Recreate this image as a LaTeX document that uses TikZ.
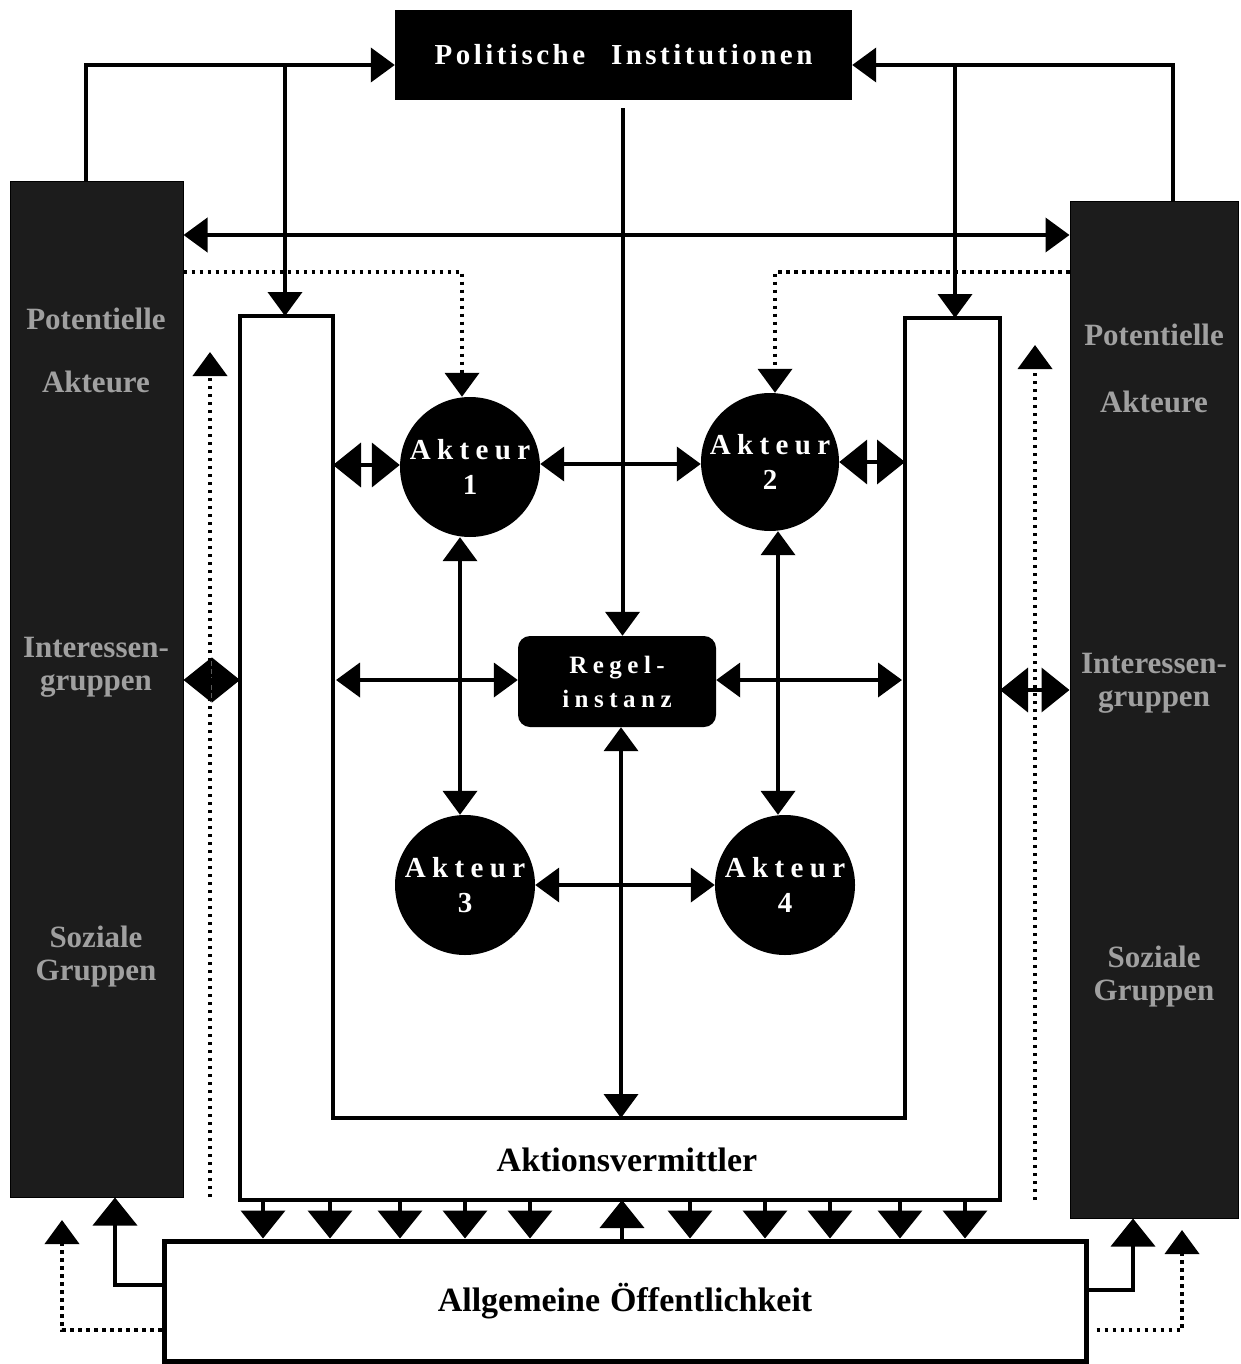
\documentclass[tikz,border=0pt]{standalone}
\usepackage{fontspec}
\setmainfont{Liberation Serif}
\newfontfamily\spc[LetterSpace=12]{Liberation Serif}
\newfontfamily\spcb[LetterSpace=22]{Liberation Serif}
\usetikzlibrary{arrows.meta}
\definecolor{colfill}{HTML}{1C1C1C}
\definecolor{coltext}{HTML}{A0A0A0}
\begin{document}
\begin{tikzpicture}[x=1pt,y=-1pt,
  solid line/.style={line width=4pt},
  arr/.style={solid line,-{Triangle[width=34pt,length=24pt]}},
  dbl/.style={solid line,{Triangle[width=34pt,length=24pt]}-{Triangle[width=34pt,length=24pt]}},
  dia/.style={solid line,{Triangle[width=44pt,length=28pt]}-{Triangle[width=44pt,length=28pt]}},
  barr/.style={solid line,-{Triangle[width=44pt,length=28pt]}},
  dotarr/.style={line width=4pt,dash pattern=on 3.5pt off 4.5pt,-{Triangle[width=34pt,length=24pt]}},
  blackbox/.style={fill=black,text=white,inner sep=0pt},
  column/.style={fill=colfill,draw=black,line width=1pt,inner sep=0pt},
  coltxt/.style={text=coltext,font=\bfseries\fontsize{31}{33}\selectfont,align=center},
  actor/.style={circle,fill=black,text=white,inner sep=0pt,align=center,
    font=\spcb\bfseries\fontsize{29}{35}\selectfont},
]
\useasboundingbox (0,0) rectangle (1240,1364);

% main boxes
\node[blackbox,minimum width=457pt,minimum height=90pt] (top) at (623.5,55)
  {\spc\bfseries\fontsize{29}{32}\selectfont Politische\hspace{26pt}Institutionen};
\node[column,minimum width=173pt,minimum height=1015pt] (lc) at (96.5,689.5) {};
\node[column,minimum width=168pt,minimum height=1016pt] (rc) at (1154,710) {};

% column labels
\node[coltxt] (l1) at (96,350) {Potentielle\\[30pt]Akteure};
\node[coltxt] (l2) at (96,667) {Interessen-\\gruppen};
\node[coltxt] (l3) at (96,957) {Soziale\\Gruppen};
\node[coltxt] (r1) at (1154,368) {Potentielle\\[34pt]Akteure};
\node[coltxt] (r2) at (1154,683) {Interessen-\\gruppen};
\node[coltxt] (r3) at (1154,977) {Soziale\\Gruppen};

% U-shaped Aktionsvermittler
\draw[line width=4pt,fill=white] (240,316) -- (333,316) -- (333,1118) -- (905,1118)
  -- (905,318) -- (1000,318) -- (1000,1200) -- (240,1200) -- cycle;
\node[font=\bfseries\fontsize{34}{36}\selectfont] (av) at (627,1160) {Aktionsvermittler};
\coordinate (uL) at (285,316);
\coordinate (uR) at (955,318);

% bottom box
\node[draw,line width=5pt,fill=white,minimum width=922pt,minimum height=120pt] (oeff) at (625,1301)
  {\bfseries\fontsize{34}{36}\selectfont Allgemeine\hspace{10pt}Öffentlichkeit};

% actors and Regelinstanz
\node[actor,minimum size=140pt] (a1) at (470,467) {Akteur\\1};
\node[actor,minimum size=138pt] (a2) at (770,462) {Akteur\\2};
\node[actor,minimum size=140pt] (a3) at (465,885) {Akteur\\3};
\node[actor,minimum size=140pt] (a4) at (785,885) {Akteur\\4};
\node[blackbox,rounded corners=12pt,minimum width=198pt,minimum height=91pt,align=center,
  font=\spcb\bfseries\fontsize{25}{34}\selectfont] (regel) at (617,681.5) {Regel-\\instanz};

% top connectors
\draw[arr] ([xshift=-11pt]lc.north) |- ([yshift=-10pt]top.west);
\draw[arr] ([xshift=19pt]rc.north) |- ([yshift=-10pt]top.east);
\draw[arr] (uL |- 0,65) -- (uL);
\draw[arr] (uR |- 0,65) -- (uR);
\coordinate (tp) at ([xshift=-1pt,yshift=-8pt]top.south);
\draw[arr] (tp) -- (tp |- regel.north);
\draw[dbl] (lc.east |- 0,235) -- (rc.west |- 0,235);

% dotted connectors from columns to actors
\draw[dotarr] (lc.east |- 0,272) -| ([xshift=-8pt]a1.north);
\draw[dotarr] (rc.west |- 0,272) -| ([xshift=5pt]a2.north);

% dotted verticals beside columns
\coordinate (dl0) at (210,1197);
\coordinate (dl1) at (210,352);
\coordinate (dr0) at (1035,1200);
\coordinate (dr1) at (1035,345);
\draw[dotarr] (dl0) -- (dl1);
\draw[dotarr] (dr0) -- (dr1);

% small double arrows columns <-> U arms
\coordinate (uLo) at (240,680);
\coordinate (uRo) at (1000,690);
\draw[dia] (lc.east |- uLo) -- (uLo);
\draw[dia] (uRo) -- (rc.west |- uRo);

% actors <-> arms
\coordinate (uLi1) at (333,465);
\coordinate (uRi1) at (905,462);
\draw[dia] (uLi1) -- (uLi1 -| a1.west);
\draw[dia] (a2.east) -- (uRi1);

% actor links
\coordinate (m12) at (0,464);
\draw[dbl] (a1.east |- m12) -- (a2.west |- m12);
\draw[dbl] (a3.east) -- (a4.west);
\draw[dbl] ([xshift=-10pt]a1.south) -- ([xshift=-10pt]a1.south |- a3.north);
\draw[dbl] ([xshift=8pt]a2.south) -- ([xshift=8pt]a2.south |- a4.north);

% Regelinstanz links
\coordinate (uLi2) at (336,680);
\coordinate (uRi2) at (902,680);
\coordinate (ub) at (621,1118);
\draw[dbl] (uLi2) -- (uLi2 -| regel.west);
\draw[dbl] (uRi2 -| regel.east) -- (uRi2);
\draw[dbl] (regel.south -| ub) -- (ub);

% U bottom <-> Oeffentlichkeit
\foreach \xx in {263,330,400,465,530,690,765,830,900,965}
  \draw[barr] (\xx,1200) -- (oeff.north -| \xx,0);
\draw[barr] (oeff.north -| 622,0) -- (622,1200);

% Oeffentlichkeit -> columns
\draw[barr] ([yshift=16pt]oeff.west) -| (lc.south -| 115,0);
\coordinate (ld) at (62,1220);
\draw[dotarr] ([yshift=-29pt]oeff.west) -| (ld);
\draw[barr] ([yshift=11pt]oeff.east) -| (rc.south -| 1133,0);
\coordinate (rd) at (1182,1230);
\draw[dotarr] ([xshift=8pt,yshift=-29pt]oeff.east) -| (rd);
\end{tikzpicture}
\end{document}
